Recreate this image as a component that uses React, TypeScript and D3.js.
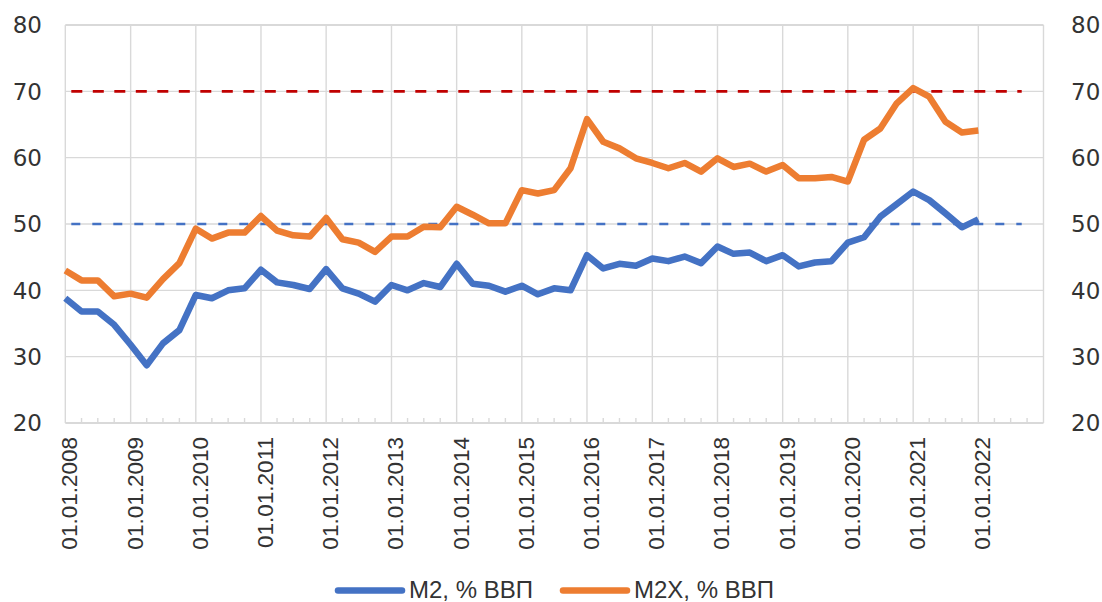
import * as d3 from "d3";
import { useEffect, useRef } from "react";

// quarterly observations, 01.01.2008 .. 01.01.2022
const startYear = 2008;
const m2 = [
  38.8, 36.8, 36.8, 34.8, 31.8, 28.7, 32.0, 34.0,
  39.3, 38.8, 40.0, 40.3, 43.1, 41.2, 40.8, 40.2,
  43.2, 40.3, 39.5, 38.3, 40.8, 40.0, 41.1, 40.5,
  44.0, 41.0, 40.7, 39.8, 40.7, 39.4, 40.3, 40.0,
  45.3, 43.3, 44.0, 43.7, 44.8, 44.4, 45.1, 44.1,
  46.6, 45.5, 45.7, 44.4, 45.3, 43.6, 44.2, 44.4,
  47.2, 48.0, 51.1, 53.0, 54.9, 53.6, 51.6, 49.5,
  50.7,
];
const m2x = [
  43.0, 41.5, 41.5, 39.1, 39.5, 38.9, 41.7, 44.1,
  49.3, 47.8, 48.7, 48.7, 51.2, 49.0, 48.3, 48.1,
  50.9, 47.7, 47.2, 45.8, 48.1, 48.1, 49.6, 49.5,
  52.6, 51.4, 50.1, 50.1, 55.1, 54.6, 55.1, 58.4,
  65.8, 62.4, 61.4, 59.9, 59.2, 58.4, 59.2, 57.9,
  59.9, 58.6, 59.1, 57.9, 58.9, 56.9, 56.9, 57.1,
  56.4, 62.7, 64.4, 68.2, 70.5, 69.2, 65.4, 63.8,
  64.1,
];
const seriesNames = ["M2, % ВВП", "M2X, % ВВП"];
const seriesColors = ["#4472C4", "#ED7D31"];
const yTicks = [20, 30, 40, 50, 60, 70, 80];
const refLevels = [70, 50];
const refColors = ["#C00000", "#4472C4"];
const refSpan = [new Date(2008, 0, 1), new Date(2022, 8, 1)];

const quarterDate = (i: number) => new Date(startYear + Math.floor(i / 4), (i % 4) * 3, 1);

function drawChart(node: SVGSVGElement) {
  const svg = d3.select(node);
  svg.selectAll("*").remove();

  const area = { left: 65.3, right: 1043.5, top: 25, bottom: 423 };

  const scX = d3.scaleTime()
    .domain([new Date(2008, 0, 1), new Date(2023, 0, 1)])
    .range([area.left, area.right]);
  const scY = d3.scaleLinear()
    .domain([20, 80])
    .range([area.bottom, area.top]);

  const grid = "#d9d9d9";
  const years = d3.timeYear.range(new Date(2008, 0, 1), new Date(2023, 0, 2));
  const quarters = d3.timeMonth.every(3)!.range(new Date(2008, 0, 1), new Date(2023, 0, 1));

  // horizontal grid
  svg.append("g")
    .selectAll("line")
    .data(yTicks)
    .enter()
    .append("line")
    .attr("x1", area.left)
    .attr("x2", area.right)
    .attr("y1", d => scY(d))
    .attr("y2", d => scY(d))
    .style("stroke", grid)
    .style("stroke-width", d => d === 80 || d === 20 ? 2 : 1.4);

  // vertical grid (years)
  svg.append("g")
    .selectAll("line")
    .data(years)
    .enter()
    .append("line")
    .attr("x1", d => scX(d))
    .attr("x2", d => scX(d))
    .attr("y1", area.top)
    .attr("y2", area.bottom)
    .style("stroke", grid)
    .style("stroke-width", 1.4);

  // quarter ticks on the x axis
  svg.append("g")
    .selectAll("line")
    .data(quarters.filter(d => d.getMonth() !== 0))
    .enter()
    .append("line")
    .attr("x1", d => scX(d))
    .attr("x2", d => scX(d))
    .attr("y1", area.bottom - 5)
    .attr("y2", area.bottom)
    .style("stroke", grid)
    .style("stroke-width", 1.4);

  // y labels, both sides
  const yLab = svg.append("g")
    .style("font-family", "'DejaVu Sans', sans-serif")
    .style("font-size", "23px")
    .style("fill", "#333");
  yLab.selectAll(".yl")
    .data(yTicks)
    .enter()
    .append("text")
    .attr("x", 42)
    .attr("y", d => scY(d))
    .attr("dy", "0.36em")
    .attr("text-anchor", "end")
    .text(d => d);
  yLab.selectAll(".yr")
    .data(yTicks)
    .enter()
    .append("text")
    .attr("x", 1071)
    .attr("y", d => scY(d))
    .attr("dy", "0.36em")
    .attr("text-anchor", "start")
    .text(d => d);

  // x labels
  const fmt = d3.timeFormat("%d.%m.%Y");
  svg.append("g")
    .selectAll("text")
    .data(years.slice(0, 15))
    .enter()
    .append("text")
    .attr("transform", d => `translate(${scX(d) + 12}, 437) rotate(-90)`)
    .attr("text-anchor", "end")
    .style("font-family", "'Liberation Sans', Arial, sans-serif")
    .style("font-size", "22.5px")
    .style("fill", "#333")
    .text(d => fmt(d));

  // reference levels
  svg.append("g")
    .selectAll("line")
    .data(refLevels)
    .enter()
    .append("line")
    .attr("x1", scX(refSpan[0]) + 6)
    .attr("x2", scX(refSpan[1]))
    .attr("y1", d => scY(d))
    .attr("y2", d => scY(d))
    .style("stroke", (_, i) => refColors[i])
    .style("stroke-width", (_, i) => i === 0 ? 2.6 : 2.4)
    .style("stroke-dasharray", (_, i) => i === 0 ? "11,10.5" : "9,12");

  // series
  const line = d3.line<number>()
    .x((_, i) => scX(quarterDate(i)))
    .y(d => scY(d));

  [m2x, m2].forEach((vals, k) => {
    const idx = k === 0 ? 1 : 0;
    svg.append("path")
      .datum(vals)
      .attr("d", line)
      .style("fill", "none")
      .style("stroke", seriesColors[idx])
      .style("stroke-width", 6.5)
      .style("stroke-linejoin", "round");
  });

  // legend
  const legendX = [338, 563];
  const legend = svg.append("g")
    .style("font-family", "'Liberation Sans', Arial, sans-serif")
    .style("font-size", "24px")
    .style("fill", "#333");
  seriesNames.forEach((name, i) => {
    legend.append("line")
      .attr("x1", legendX[i])
      .attr("x2", legendX[i] + 64)
      .attr("y1", 590.5)
      .attr("y2", 590.5)
      .style("stroke", seriesColors[i])
      .style("stroke-width", 6.5)
      .style("stroke-linecap", "round");
    legend.append("text")
      .attr("x", legendX[i] + 71)
      .attr("y", 598)
      .text(name);
  });
}

export default function App() {
  const svgRef = useRef<SVGSVGElement>(null);

  useEffect(() => {
    if (svgRef.current) drawChart(svgRef.current);
  }, []);

  return (
    <div style={{ position: "absolute", left: 0, top: 0, background: "#fff" }}>
      <svg ref={svgRef} width={1102} height={602} style={{ display: "block" }}></svg>
    </div>
  );
}
